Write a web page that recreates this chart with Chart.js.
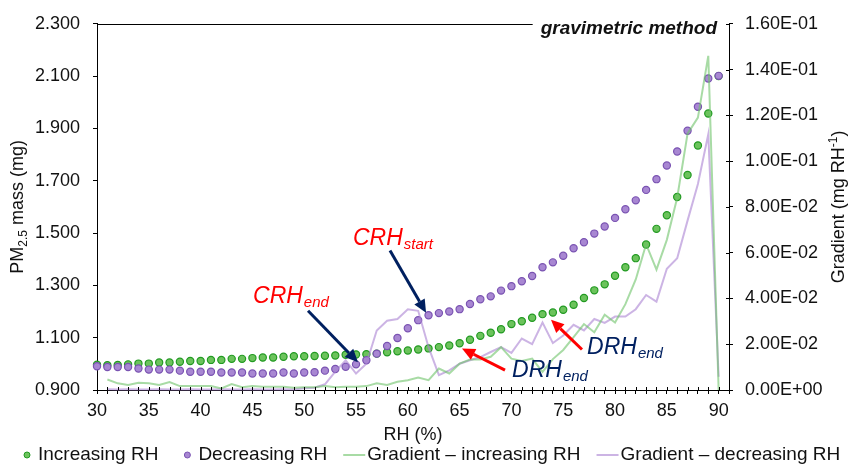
<!DOCTYPE html>
<html>
<head>
<meta charset="utf-8">
<script src="https://cdn.jsdelivr.net/npm/chart.js@4.4.1/dist/chart.umd.min.js"></script>
<style>
  html, body { margin: 0; padding: 0; background: #fff; }
  #wrap { position: relative; width: 850px; height: 464px; }
</style>
</head>
<body>
<div id="wrap"><canvas id="chart"></canvas></div>
<script>
/* global Chart */

// RH steps (%)
const rh = [30, 31, 32, 33, 34, 35, 36, 37, 38, 39, 40, 41, 42, 43, 44, 45, 46, 47, 48, 49,
  50, 51, 52, 53, 54, 55, 56, 57, 58, 59, 60, 61, 62, 63, 64, 65, 66, 67, 68, 69,
  70, 71, 72, 73, 74, 75, 76, 77, 78, 79, 80, 81, 82, 83, 84, 85, 86, 87, 88, 89, 90];

// PM2.5 mass (mg), left axis
const massIncreasing = [0.997, 0.995, 0.996, 0.998, 1.001, 1.001, 1.005, 1.005, 1.008, 1.011,
  1.011, 1.015, 1.015, 1.019, 1.019, 1.022, 1.024, 1.024, 1.027, 1.029,
  1.029, 1.030, 1.031, 1.032, 1.035, 1.036, 1.037, 1.039, 1.044, 1.048,
  1.051, 1.055, 1.059, 1.064, 1.070, 1.079, 1.092, 1.107, 1.119, 1.132,
  1.152, 1.163, 1.176, 1.190, 1.196, 1.207, 1.226, 1.252, 1.281, 1.304,
  1.337, 1.369, 1.404, 1.456, 1.516, 1.568, 1.638, 1.722, 1.835, 1.957, 2.100];

const massDecreasing = [0.991, 0.988, 0.988, 0.988, 0.982, 0.978, 0.978, 0.978, 0.974, 0.970,
  0.970, 0.970, 0.967, 0.967, 0.967, 0.963, 0.963, 0.963, 0.967, 0.963,
  0.967, 0.968, 0.974, 0.980, 0.989, 0.998, 1.014, 1.039, 1.068, 1.099,
  1.136, 1.167, 1.186, 1.194, 1.200, 1.209, 1.229, 1.247, 1.258, 1.280,
  1.297, 1.316, 1.336, 1.369, 1.388, 1.413, 1.442, 1.465, 1.498, 1.525,
  1.558, 1.591, 1.625, 1.665, 1.706, 1.758, 1.812, 1.891, 1.983, 2.091, 2.101];

// Gradient (mg RH-1), right axis
const gradIncreasing = [null, 0.0046, 0.0029, 0.0022, 0.0032, 0.0029, 0.0022, 0.0035, 0.0017, 0.0017,
  0.0017, 0.0017, 0.0007, 0.0026, 0.0012, 0.0017, 0.0014, 0.0014, 0.0014, 0.0010,
  0.0012, 0.0012, 0.0017, 0.0012, 0.0014, 0.0014, 0.0017, 0.0029, 0.0022, 0.0036,
  0.0043, 0.0055, 0.0043, 0.0094, 0.0072, 0.0115, 0.0133, 0.0133, 0.0145, 0.0187,
  0.0137, 0.0127, 0.0137, 0.0079, 0.0135, 0.0175, 0.0231, 0.0288, 0.0252, 0.0329,
  0.0295, 0.0375, 0.0483, 0.0637, 0.0526, 0.0656, 0.0840, 0.1120, 0.1190, 0.1460, 0.0000];

const gradDecreasing = [null, 0.0003, 0.0002, 0.0003, 0.0002, 0.0002, 0.0003, 0.0002, 0.0002, 0.0003,
  0.0002, 0.0002, 0.0003, 0.0002, 0.0002, 0.0003, 0.0002, 0.0002, 0.0003, 0.0002,
  0.0008, 0.0010, 0.0025, 0.0080, 0.0130, 0.0072, 0.0115, 0.0260, 0.0303, 0.0310,
  0.0353, 0.0346, 0.0187, 0.0065, 0.0086, 0.0115, 0.0130, 0.0144, 0.0166, 0.0187,
  0.0162, 0.0225, 0.0200, 0.0295, 0.0205, 0.0238, 0.0285, 0.0260, 0.0310, 0.0293,
  0.0321, 0.0321, 0.0353, 0.0415, 0.0386, 0.0530, 0.0576, 0.0740, 0.0900, 0.1117, 0.0058];

const seriesNames = ['Increasing RH', 'Decreasing RH', 'Gradient \u2013 increasing RH', 'Gradient \u2013 decreasing RH'];

const rhRange = [30, 91];
const massRange = [0.9, 2.3, 0.2];
const gradRange = [0, 0.16, 0.02];

// callouts: label anchored in (RH, mass) units, arrow from -> to
const callouts = [
  { main: 'CRH', sub: 'end', color: '#ff0000', at: [45.06, 1.233], arrow: '#002060', from: [50.37, 1.203], to: [55.19, 1.006] },
  { main: 'CRH', sub: 'start', color: '#ff0000', at: [54.71, 1.456], arrow: '#002060', from: [58.28, 1.433], to: [61.76, 1.195] },
  { main: 'DRH', sub: 'end', color: '#002060', at: [70.06, 0.949], arrow: '#ff0000', from: [69.38, 0.976], to: [65.23, 1.059] },
  { main: 'DRH', sub: 'end', color: '#002060', at: [77.30, 1.036], arrow: '#ff0000', from: [76.81, 1.055], to: [73.82, 1.169] }
];

const FONT = "'Liberation Sans', Arial, sans-serif";
const INK = '#111';

function toPoints(ys) {
  return rh.map((x, i) => ({ x, y: ys[i] }));
}

function sci(v) {
  const [m, e] = Number(v).toExponential(2).split('e');
  const sign = e[0] === '-' ? '-' : '+';
  const d = Math.abs(parseInt(e, 10)).toString().padStart(2, '0');
  return `${m}E${sign}${d}`;
}

function drawArrow(ctx, x1, y1, x2, y2, color) {
  const ang = Math.atan2(y2 - y1, x2 - x1);
  const headLen = 13;
  const headW = 6;
  const bx = x2 - headLen * Math.cos(ang);
  const by = y2 - headLen * Math.sin(ang);
  ctx.strokeStyle = color;
  ctx.fillStyle = color;
  ctx.lineWidth = 3;
  ctx.beginPath();
  ctx.moveTo(x1, y1);
  ctx.lineTo(bx, by);
  ctx.stroke();
  ctx.beginPath();
  ctx.moveTo(x2, y2);
  ctx.lineTo(bx + headW * Math.sin(ang), by - headW * Math.cos(ang));
  ctx.lineTo(bx - headW * Math.sin(ang), by + headW * Math.cos(ang));
  ctx.closePath();
  ctx.fill();
}

// rich text: parts drawn left to right, dy shifts along the text's vertical
function drawParts(ctx, parts, cx, cy, rotate) {
  ctx.save();
  ctx.translate(cx, cy);
  if (rotate) ctx.rotate(-Math.PI / 2);
  let total = 0;
  parts.forEach(p => { ctx.font = `${p.style || ''} ${p.size}px ${FONT}`; p.w = ctx.measureText(p.text).width; total += p.w; });
  let x = -total / 2;
  ctx.textBaseline = 'alphabetic';
  ctx.textAlign = 'left';
  parts.forEach(p => {
    ctx.font = `${p.style || ''} ${p.size}px ${FONT}`;
    ctx.fillText(p.text, x, 6 + (p.dy || 0));
    x += p.w;
  });
  ctx.restore();
}

const decorations = {
  id: 'decorations',
  afterDatasetsDraw(chart) {
    const { ctx, chartArea, scales } = chart;
    const sx = scales.x;
    const sy = scales.y;
    ctx.save();
    // inner halves of the tick marks
    ctx.strokeStyle = '#000';
    ctx.lineWidth = 1;
    ctx.beginPath();
    sx.ticks.forEach(t => {
      const px = Math.round(sx.getPixelForValue(t.value)) + 0.5;
      ctx.moveTo(px, chartArea.bottom);
      ctx.lineTo(px, chartArea.bottom - 3);
    });
    scales.y2.ticks.forEach(t => {
      const py = Math.round(scales.y2.getPixelForValue(t.value)) + 0.5;
      ctx.moveTo(chartArea.right, py);
      ctx.lineTo(chartArea.right - 3, py);
    });
    ctx.stroke();

    // callouts
    callouts.forEach(c => {
      drawArrow(ctx, sx.getPixelForValue(c.from[0]), sy.getPixelForValue(c.from[1]),
        sx.getPixelForValue(c.to[0]), sy.getPixelForValue(c.to[1]), c.arrow);
      const x = sx.getPixelForValue(c.at[0]);
      const y = sy.getPixelForValue(c.at[1]);
      ctx.fillStyle = c.color;
      ctx.textBaseline = 'alphabetic';
      ctx.textAlign = 'left';
      ctx.font = `italic 23px ${FONT}`;
      ctx.fillText(c.main, x, y);
      const w = ctx.measureText(c.main).width;
      ctx.font = `italic 15px ${FONT}`;
      ctx.fillText(c.sub, x + w + 1, y + 4);
    });
    ctx.restore();
  },
  afterDraw(chart) {
    const { ctx, chartArea } = chart;
    ctx.save();
    // title in the top right corner
    ctx.font = `italic bold 19px ${FONT}`;
    ctx.fillStyle = INK;
    ctx.textAlign = 'right';
    ctx.textBaseline = 'alphabetic';
    const title = 'gravimetric method';
    const tx = chartArea.right - 12;
    ctx.fillText(title, tx, chartArea.top + 10);
    const tw = ctx.measureText(title).width;
    // top border, stopping short of the title
    ctx.strokeStyle = '#000';
    ctx.lineWidth = 1;
    ctx.beginPath();
    ctx.moveTo(chartArea.left, Math.round(chartArea.top) + 0.5);
    ctx.lineTo(tx - tw - 8, Math.round(chartArea.top) + 0.5);
    ctx.stroke();

    // axis titles
    ctx.fillStyle = INK;
    const midY = (chartArea.top + chartArea.bottom) / 2;
    drawParts(ctx, [
      { text: 'PM', size: 18 },
      { text: '2.5', size: 12, dy: 4 },
      { text: ' mass (mg)', size: 18 }
    ], 17, midY, true);
    drawParts(ctx, [
      { text: 'Gradient (mg RH', size: 18 },
      { text: '-1', size: 12, dy: -7 },
      { text: ')', size: 18 }
    ], 838, midY, true);
    drawParts(ctx, [{ text: 'RH (%)', size: 18 }], (chartArea.left + chartArea.right) / 2, 434, false);

    // legend
    ctx.font = `19px ${FONT}`;
    ctx.textAlign = 'left';
    ctx.textBaseline = 'middle';
    const cy = 455;
    let cx = 24;
    chart.data.datasets.forEach((ds, i) => {
      let textX;
      if (ds.showLine === false) {
        ctx.beginPath();
        ctx.arc(cx + 3, cy, 3, 0, Math.PI * 2);
        ctx.fillStyle = ds.backgroundColor;
        ctx.fill();
        ctx.strokeStyle = ds.borderColor;
        ctx.lineWidth = 1;
        ctx.stroke();
        textX = cx + 14;
      } else {
        ctx.beginPath();
        ctx.moveTo(cx, cy);
        ctx.lineTo(cx + 22, cy);
        ctx.strokeStyle = ds.borderColor;
        ctx.lineWidth = 2;
        ctx.stroke();
        textX = cx + 24;
      }
      ctx.fillStyle = INK;
      ctx.fillText(ds.label, textX, cy);
      const next = chart.data.datasets[i + 1];
      cx = textX + ctx.measureText(ds.label).width + (next && next.showLine === false ? 26 : 16);
    });
    ctx.restore();
  }
};

Chart.defaults.font.family = FONT;
Chart.defaults.color = INK;

new Chart(document.getElementById('chart').getContext('2d'), {
  type: 'line',
  data: {
    datasets: [
      {
        label: seriesNames[0],
        data: toPoints(massIncreasing),
        yAxisID: 'y',
        showLine: false,
        pointRadius: 3.6,
        pointBorderWidth: 1.2,
        backgroundColor: '#6cc35c',
        borderColor: '#229a22',
        order: 2
      },
      {
        label: seriesNames[1],
        data: toPoints(massDecreasing),
        yAxisID: 'y',
        showLine: false,
        pointRadius: 3.6,
        pointBorderWidth: 1.2,
        backgroundColor: '#a887d2',
        borderColor: '#7a53b2',
        order: 1
      },
      {
        label: seriesNames[2],
        data: toPoints(gradIncreasing),
        yAxisID: 'y2',
        borderColor: 'rgba(110,195,105,0.6)',
        borderWidth: 2,
        pointRadius: 0,
        tension: 0,
        order: 0
      },
      {
        label: seriesNames[3],
        data: toPoints(gradDecreasing),
        yAxisID: 'y2',
        borderColor: 'rgba(170,130,210,0.6)',
        borderWidth: 2,
        pointRadius: 0,
        tension: 0,
        order: 0
      }
    ]
  },
  options: {
    responsive: true,
    maintainAspectRatio: false,
    animation: false,
    events: [],
    clip: false,
    layout: { padding: { top: 21, left: 0, right: 0, bottom: 0 } },
    scales: {
      x: {
        type: 'linear',
        min: rhRange[0],
        max: rhRange[1],
        afterFit: (s) => { s.height = 74; },
        ticks: {
          stepSize: 1,
          autoSkip: false,
          maxRotation: 0,
          minRotation: 0,
          padding: 6,
          font: { size: 18 },
          callback: (v) => {
            const r = Math.round(v);
            return r % 5 === 0 && r <= 90 ? String(r) : '';
          }
        },
        grid: { drawOnChartArea: false, color: '#000', tickLength: 4 },
        border: { color: '#000', width: 1 }
      },
      y: {
        position: 'left',
        min: massRange[0],
        max: massRange[1],
        afterFit: (s) => { s.width = 97; },
        ticks: {
          stepSize: massRange[2],
          padding: 13,
          font: { size: 18 },
          callback: (v) => Number(v).toFixed(3)
        },
        grid: { drawOnChartArea: false, color: '#000', tickLength: 4 },
        border: { color: '#000', width: 1 }
      },
      y2: {
        position: 'right',
        min: gradRange[0],
        max: gradRange[1],
        afterFit: (s) => { s.width = 121; },
        ticks: {
          stepSize: gradRange[2],
          padding: 12,
          font: { size: 18 },
          callback: (v) => sci(v)
        },
        grid: { drawOnChartArea: false, color: '#000', tickLength: 4 },
        border: { color: '#000', width: 1 }
      }
    },
    plugins: {
      legend: { display: false },
      tooltip: { enabled: false }
    }
  },
  plugins: [decorations]
});
</script>
</body>
</html>
